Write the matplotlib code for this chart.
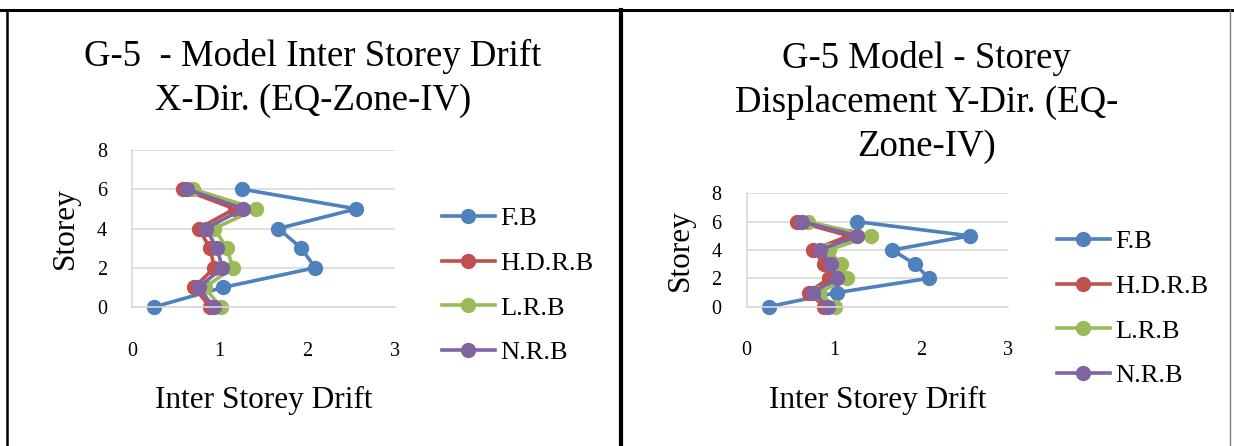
import matplotlib
matplotlib.use('Agg')
import matplotlib.pyplot as plt
from matplotlib.lines import Line2D

plt.rcParams['font.family'] = ['Liberation Serif', 'DejaVu Serif']

# --- Data: storey level vs drift for each base isolation type ---
storeys = [0, 1, 2, 3, 4, 5, 6]
fb = [0.25, 1.04, 2.09, 1.93, 1.67, 2.56, 1.26]
hdrb = [0.89, 0.71, 0.94, 0.89, 0.76, 1.17, 0.58]
lrb = [1.01, 0.83, 1.15, 1.08, 0.94, 1.42, 0.70]
nrb = [0.93, 0.76, 1.03, 0.97, 0.84, 1.27, 0.63]

series_names = ['F.B', 'H.D.R.B', 'L.R.B', 'N.R.B']
series_vals = [fb, hdrb, lrb, nrb]
colors = ['#4F81BD', '#C0504D', '#9BBB59', '#8064A2']

W, H = 1234, 446
fig = plt.figure(figsize=(W / 100, H / 100), dpi=100)


def px_box(x0, x1, ytop, ybot):
    return [x0 / W, 1 - ybot / H, (x1 - x0) / W, (ybot - ytop) / H]


def draw_panel(ax, legend_anchor):
    for name, vals, c in zip(series_names, series_vals, colors):
        ax.plot(vals, storeys, color=c, lw=2.6, marker='o', ms=10,
                label=name, clip_on=False)
    ax.set_xlim(0, 3)
    ax.set_ylim(0, 8)
    ax.set_xticks([0, 1, 2, 3])
    ax.set_yticks([0, 2, 4, 6, 8])
    ax.grid(axis='y', color='#D9D9D9', lw=1.2)
    ax.set_axisbelow(True)
    for s in ['top', 'right']:
        ax.spines[s].set_visible(False)
    for s in ['left', 'bottom']:
        ax.spines[s].set_color('#D9D9D9')
        ax.spines[s].set_linewidth(1.2)
    ax.tick_params(axis='both', length=0, labelsize=14.5)
    ax.tick_params(axis='x', pad=25)
    ax.tick_params(axis='y', pad=18)
    ax.set_xlabel('Inter Storey Drift', fontsize=22.5)
    ax.set_ylabel('Storey', fontsize=22.5)
    ax.legend(loc='upper left', bbox_to_anchor=legend_anchor,
              bbox_transform=fig.transFigure, frameon=False, fontsize=19,
              handlelength=2.0, handletextpad=0.2, labelspacing=0.8,
              borderpad=0, borderaxespad=0)


# Left panel
ax1 = fig.add_axes(px_box(132, 395, 150, 307))
draw_panel(ax1, (442 / W, 1 - 207 / H))
ax1.xaxis.set_label_coords(0.5, (307 - 386) / 157)
ax1.yaxis.set_label_coords(-0.2, 0.5)
fig.text(313 / W, 1 - 39 / H,
         'G-5  - Model Inter Storey Drift\nX-Dir. (EQ-Zone-IV)',
         ha='center', va='top', fontsize=26.5, linespacing=1.36)

# Right panel
ax2 = fig.add_axes(px_box(746.7, 1008.3, 193.3, 306.7))
draw_panel(ax2, (1057 / W, 1 - 230 / H))
ax2.xaxis.set_label_coords(0.5, (306.7 - 386) / 113.4)
ax2.yaxis.set_label_coords(-0.2, 0.5)
fig.text(926.5 / W, 1 - 40.5 / H,
         'G-5 Model - Storey\nDisplacement Y-Dir. (EQ-\nZone-IV)',
         ha='center', va='top', fontsize=26.5, linespacing=1.36)

# Cell borders around the two panels
fig.add_artist(Line2D([0, 1], [1 - 10 / H, 1 - 10 / H], color='black',
                      lw=2.2, transform=fig.transFigure))
fig.add_artist(Line2D([7 / W, 7 / W], [0, 1 - 10 / H], color='black',
                      lw=1.8, transform=fig.transFigure))
fig.add_artist(Line2D([621 / W, 621 / W], [0, 1 - 10 / H], color='black',
                      lw=3, transform=fig.transFigure))
fig.add_artist(Line2D([1230 / W, 1230 / W], [0, 1 - 10 / H], color='#808080',
                      lw=1, transform=fig.transFigure))

fig.savefig('out.png', dpi=100)
